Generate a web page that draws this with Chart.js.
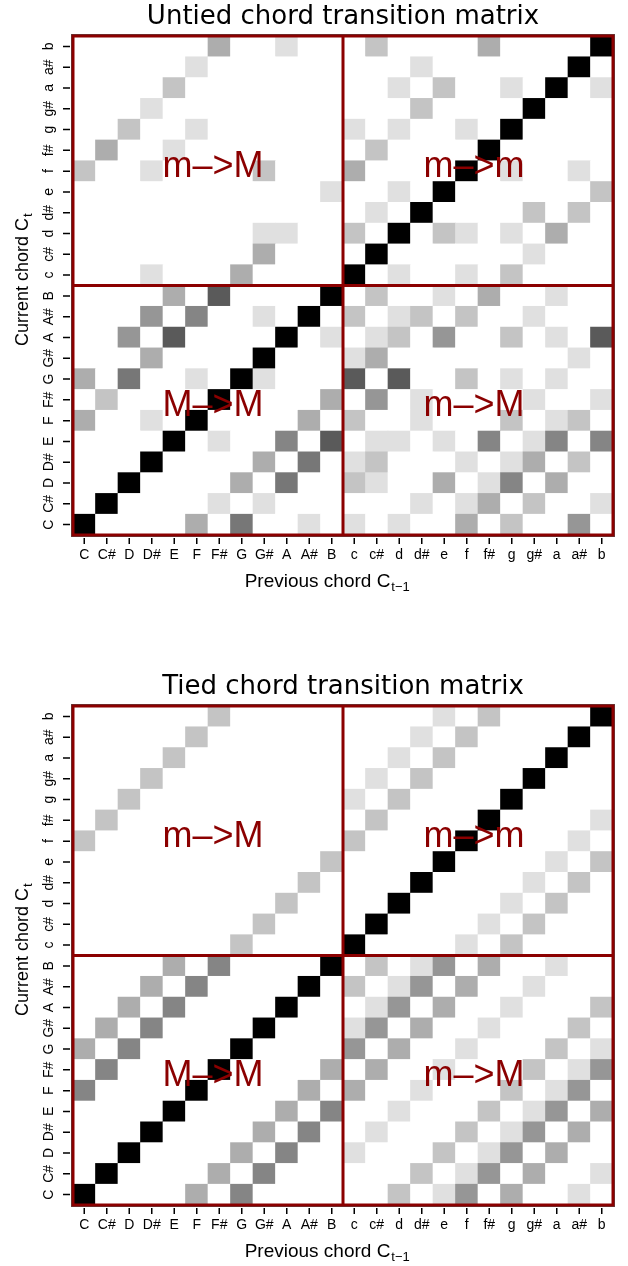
<!DOCTYPE html>
<html lang="en">
<head>
  <meta charset="UTF-8">
  <title>Chord transition matrices</title>
  <script src="https://cdn.jsdelivr.net/npm/chart.js"></script>
  <style>
    body { margin: 0; background: #fff; }
    .wrap { position: absolute; left: 0; width: 628px; height: 596px; }
  </style>
</head>
<body>
  <div class="wrap" style="top: 0;"><canvas id="untiedChart"></canvas></div>
  <div class="wrap" style="top: 670px;"><canvas id="tiedChart"></canvas></div>

  <script>
    // Chords in axis order: major C..B then minor c..b
    const chords = ["C", "C#", "D", "D#", "E", "F", "F#", "G", "G#", "A", "A#", "B",
                    "c", "c#", "d", "d#", "e", "f", "f#", "g", "g#", "a", "a#", "b"];

    // Grey levels used in the pictures (0 = white ... 8 = black)
    const shadeColors = ["#ffffff", "#e0e0e0", "#c4c4c4", "#adadad", "#969696",
                         "#858585", "#777777", "#5a5a5a", "#000000"];

    // Quadrant captions: top-left, top-right, bottom-left, bottom-right
    const quadrantLabels = ["m\u2013>M", "m\u2013>m", "M\u2013>M", "m\u2013>M"];

    // Shade level per cell. One row per current chord, written from b (top) down to C (bottom),
    // columns are the previous chord C..b.
    const untiedShades = [
      [0,0,0,0,0,0,3,0,0,1,0,0, 0,2,0,0,0,0,3,0,0,0,0,8], // b
      [0,0,0,0,0,1,0,0,0,0,0,0, 0,0,0,1,0,0,0,0,0,0,8,0], // a#
      [0,0,0,0,2,0,0,0,0,0,0,0, 0,0,1,0,2,0,0,1,0,8,0,1], // a
      [0,0,0,1,0,0,0,0,0,0,0,0, 0,0,0,2,0,0,0,0,8,0,0,0], // g#
      [0,0,2,0,0,1,0,0,0,0,0,0, 1,0,1,0,0,1,0,8,0,0,0,0], // g
      [0,3,0,0,1,0,0,0,0,0,0,0, 0,2,0,0,0,0,8,0,0,0,0,0], // f#
      [2,0,0,1,0,0,0,0,2,0,0,0, 3,0,0,0,0,8,0,1,0,0,1,0], // f
      [0,0,0,0,0,0,0,0,0,0,0,1, 0,0,1,0,8,0,0,0,0,0,0,2], // e
      [0,0,0,0,0,0,0,0,0,0,0,0, 0,1,0,8,0,0,0,0,2,0,2,0], // d#
      [0,0,0,0,0,0,0,0,1,1,0,0, 2,0,8,0,2,1,0,1,0,3,0,0], // d
      [0,0,0,0,0,0,0,0,3,0,0,0, 0,8,0,0,0,0,0,0,1,0,0,0], // c#
      [0,0,0,1,0,0,0,3,0,0,0,0, 8,0,1,0,0,1,0,2,0,0,0,0], // c
      [0,0,0,0,3,0,7,0,0,0,0,8, 0,2,0,0,1,0,3,0,0,1,0,0], // B
      [0,0,0,4,0,5,0,0,1,0,8,0, 2,0,1,2,0,2,0,0,1,0,0,0], // A#
      [0,0,4,0,7,0,0,0,0,8,0,1, 0,1,2,0,4,0,0,2,0,1,0,7], // A
      [0,0,0,3,0,0,0,0,8,0,0,0, 1,3,0,0,0,0,0,0,0,0,1,0], // G#
      [3,0,6,0,0,1,0,8,1,0,0,0, 7,0,7,0,0,2,0,1,0,1,0,0], // G
      [0,2,0,0,0,0,8,0,0,0,0,3, 0,4,0,1,0,0,0,0,1,0,0,1], // F#
      [3,0,0,1,0,8,0,0,0,0,3,0, 2,0,0,1,0,0,0,2,0,1,2,0], // F
      [0,0,0,0,8,0,1,0,0,5,0,7, 0,1,1,0,1,0,5,0,1,5,0,5], // E
      [0,0,0,8,0,0,0,0,3,0,6,0, 1,2,0,0,0,1,0,1,3,0,2,0], // D#
      [0,0,8,0,0,0,0,3,0,6,0,0, 2,1,0,0,3,0,1,5,0,3,0,0], // D
      [0,8,0,0,0,0,1,0,1,0,0,0, 0,0,0,1,0,1,3,0,2,0,0,1], // C#
      [8,0,0,0,0,3,0,6,0,0,1,0, 1,0,1,0,0,3,0,2,0,0,4,0]  // C
    ];

    const tiedShades = [
      [0,0,0,0,0,0,2,0,0,0,0,0, 0,0,0,0,1,0,2,0,0,0,0,8], // b
      [0,0,0,0,0,2,0,0,0,0,0,0, 0,0,0,1,0,2,0,0,0,0,8,0], // a#
      [0,0,0,0,2,0,0,0,0,0,0,0, 0,0,1,0,2,0,0,0,0,8,0,0], // a
      [0,0,0,2,0,0,0,0,0,0,0,0, 0,1,0,2,0,0,0,0,8,0,0,0], // g#
      [0,0,2,0,0,0,0,0,0,0,0,0, 1,0,2,0,0,0,0,8,0,0,0,0], // g
      [0,2,0,0,0,0,0,0,0,0,0,0, 0,2,0,0,0,0,8,0,0,0,0,1], // f#
      [2,0,0,0,0,0,0,0,0,0,0,0, 2,0,0,0,0,8,0,0,0,0,1,0], // f
      [0,0,0,0,0,0,0,0,0,0,0,2, 0,0,0,0,8,0,0,0,0,1,0,2], // e
      [0,0,0,0,0,0,0,0,0,0,2,0, 0,0,0,8,0,0,0,0,1,0,2,0], // d#
      [0,0,0,0,0,0,0,0,0,2,0,0, 0,0,8,0,0,0,0,1,0,2,0,0], // d
      [0,0,0,0,0,0,0,0,2,0,0,0, 0,8,0,0,0,0,1,0,2,0,0,0], // c#
      [0,0,0,0,0,0,0,2,0,0,0,0, 8,0,0,0,0,1,0,2,0,0,0,0], // c
      [0,0,0,0,3,0,5,0,0,0,0,8, 0,2,0,1,4,0,3,0,0,1,0,0], // B
      [0,0,0,3,0,5,0,0,0,0,8,0, 2,0,1,4,0,3,0,0,1,0,0,0], // A#
      [0,0,3,0,5,0,0,0,0,8,0,0, 0,1,4,0,3,0,0,1,0,0,0,2], // A
      [0,3,0,5,0,0,0,0,8,0,0,0, 1,4,0,3,0,0,1,0,0,0,2,0], // G#
      [3,0,5,0,0,0,0,8,0,0,0,0, 4,0,3,0,0,1,0,0,0,2,0,1], // G
      [0,5,0,0,0,0,8,0,0,0,0,3, 0,3,0,0,1,0,0,0,2,0,1,4], // F#
      [5,0,0,0,0,8,0,0,0,0,3,0, 3,0,0,1,0,0,0,2,0,1,4,0], // F
      [0,0,0,0,8,0,0,0,0,3,0,5, 0,0,1,0,0,0,2,0,1,4,0,3], // E
      [0,0,0,8,0,0,0,0,3,0,5,0, 0,1,0,0,0,2,0,1,4,0,3,0], // D#
      [0,0,8,0,0,0,0,3,0,5,0,0, 1,0,0,0,2,0,1,4,0,3,0,0], // D
      [0,8,0,0,0,0,3,0,5,0,0,0, 0,0,0,2,0,1,4,0,3,0,0,1], // C#
      [8,0,0,0,0,3,0,5,0,0,0,0, 0,0,2,0,1,4,0,3,0,0,1,0]  // C
    ];

    const FONT = '"Liberation Sans", Arial, sans-serif';
    const TITLE_FONT = '"DejaVu Sans", sans-serif';
    const DARK_RED = "#8b0000";

    // One stacked dataset per current chord (bottom row first), each cell is one unit tall.
    function buildDatasets(shades) {
      const rows = shades.slice().reverse();
      return rows.map((row, r) => ({
        label: chords[r],
        data: chords.map(() => 1),
        backgroundColor: row.map(s => shadeColors[s]),
        borderWidth: 0,
        barPercentage: 1,
        categoryPercentage: 1
      }));
    }

    // Text with a subscript, starting at x (left aligned), vertically centred on y.
    function drawSubText(ctx, main, sub, x, y, size) {
      ctx.textAlign = "left";
      ctx.textBaseline = "middle";
      ctx.font = size + "px " + FONT;
      ctx.fillText(main, x, y);
      const w = ctx.measureText(main).width;
      ctx.font = Math.round(size * 0.7) + "px " + FONT;
      ctx.fillText(sub, x + w + 1, y + size * 0.3);
      return w + 1 + ctx.measureText(sub).width;
    }

    // Frames, captions, titles, tick marks and rotated y labels
    const decorations = {
      id: "decorations",
      afterDatasetsDraw(chart) {
        const { ctx, chartArea: a, scales: { x, y } } = chart;
        const midX = (x.getPixelForValue(11) + x.getPixelForValue(12)) / 2;
        const midY = y.getPixelForValue(12);
        ctx.save();
        ctx.strokeStyle = "#555";
        ctx.lineWidth = 1;
        ctx.strokeRect(a.left - 1.5, a.top - 1.5, a.width + 3, a.height + 3);

        ctx.strokeStyle = DARK_RED;
        ctx.lineWidth = 3;
        ctx.strokeRect(a.left, a.top, a.width, a.height);
        ctx.beginPath();
        ctx.moveTo(midX, a.top);
        ctx.lineTo(midX, a.bottom);
        ctx.moveTo(a.left, midY);
        ctx.lineTo(a.right, midY);
        ctx.stroke();

        ctx.fillStyle = DARK_RED;
        ctx.font = "36px " + FONT;
        ctx.textAlign = "center";
        ctx.textBaseline = "middle";
        const qx = [(a.left + midX) / 2 + 5, (midX + a.right) / 2 - 4];
        const qy = [(a.top + midY) / 2 + 6, (midY + a.bottom) / 2 - 4];
        quadrantLabels.forEach((t, i) => ctx.fillText(t, qx[i % 2], qy[Math.floor(i / 2)]));
        ctx.restore();
      },
      afterDraw(chart, args, opts) {
        const { ctx, chartArea: a, scales: { x, y } } = chart;
        ctx.save();
        ctx.fillStyle = "#000";
        ctx.strokeStyle = "#000";
        ctx.lineWidth = 1.5;

        // tick marks
        ctx.beginPath();
        chords.forEach((c, i) => {
          const px = x.getPixelForValue(i);
          ctx.moveTo(px, a.bottom + 3);
          ctx.lineTo(px, a.bottom + 9);
          const py = y.getPixelForValue(i + 0.5);
          ctx.moveTo(a.left - 10, py);
          ctx.lineTo(a.left - 3, py);
        });
        ctx.stroke();

        // main title
        ctx.font = "26px " + TITLE_FONT;
        ctx.textAlign = "center";
        ctx.textBaseline = "middle";
        ctx.fillText(opts.title, (a.left + a.right) / 2, 17);

        // y tick labels, rotated
        ctx.font = "14px " + FONT;
        chords.forEach((c, i) => {
          ctx.save();
          ctx.translate(49, y.getPixelForValue(i + 0.5));
          ctx.rotate(-Math.PI / 2);
          ctx.textAlign = "center";
          ctx.textBaseline = "middle";
          ctx.fillText(c, 0, 0);
          ctx.restore();
        });

        // x axis title
        ctx.font = "19px " + FONT;
        const xw = ctx.measureText("Previous chord C").width + 17;
        drawSubText(ctx, "Previous chord C", "t\u22121", (a.left + a.right) / 2 - 17 - xw / 2, 582, 19);

        // y axis title
        ctx.save();
        ctx.translate(23, (a.top + a.bottom) / 2 - 6);
        ctx.rotate(-Math.PI / 2);
        ctx.font = "18px " + FONT;
        const yw = ctx.measureText("Current chord C").width + 5;
        drawSubText(ctx, "Current chord C", "t", -yw / 2, 0, 18);
        ctx.restore();

        ctx.restore();
      }
    };

    function renderMatrix(canvasId, title, shades) {
      const ctx = document.getElementById(canvasId).getContext("2d");
      return new Chart(ctx, {
        type: "bar",
        data: {
          labels: chords,
          datasets: buildDatasets(shades)
        },
        options: {
          responsive: true,
          maintainAspectRatio: false,
          animation: false,
          layout: { padding: { top: 36, right: 15, left: 0, bottom: 0 } },
          plugins: {
            legend: { display: false },
            tooltip: { enabled: false },
            decorations: { title: title }
          },
          scales: {
            x: {
              stacked: true,
              border: { display: false },
              grid: { display: false },
              ticks: { color: "#000", font: { family: FONT, size: 14 }, maxRotation: 0, autoSkip: false, padding: 4 },
              afterFit: s => { s.height = 61; }
            },
            y: {
              stacked: true,
              min: 0,
              max: 24,
              border: { display: false },
              grid: { display: false },
              ticks: { display: false },
              afterBuildTicks: s => { s.ticks = chords.map((c, i) => ({ value: i + 0.5 })); },
              afterFit: s => { s.width = 73; }
            }
          }
        },
        plugins: [decorations]
      });
    }

    renderMatrix("untiedChart", "Untied chord transition matrix", untiedShades);
    renderMatrix("tiedChart", "Tied chord transition matrix", tiedShades);
  </script>
</body>
</html>
